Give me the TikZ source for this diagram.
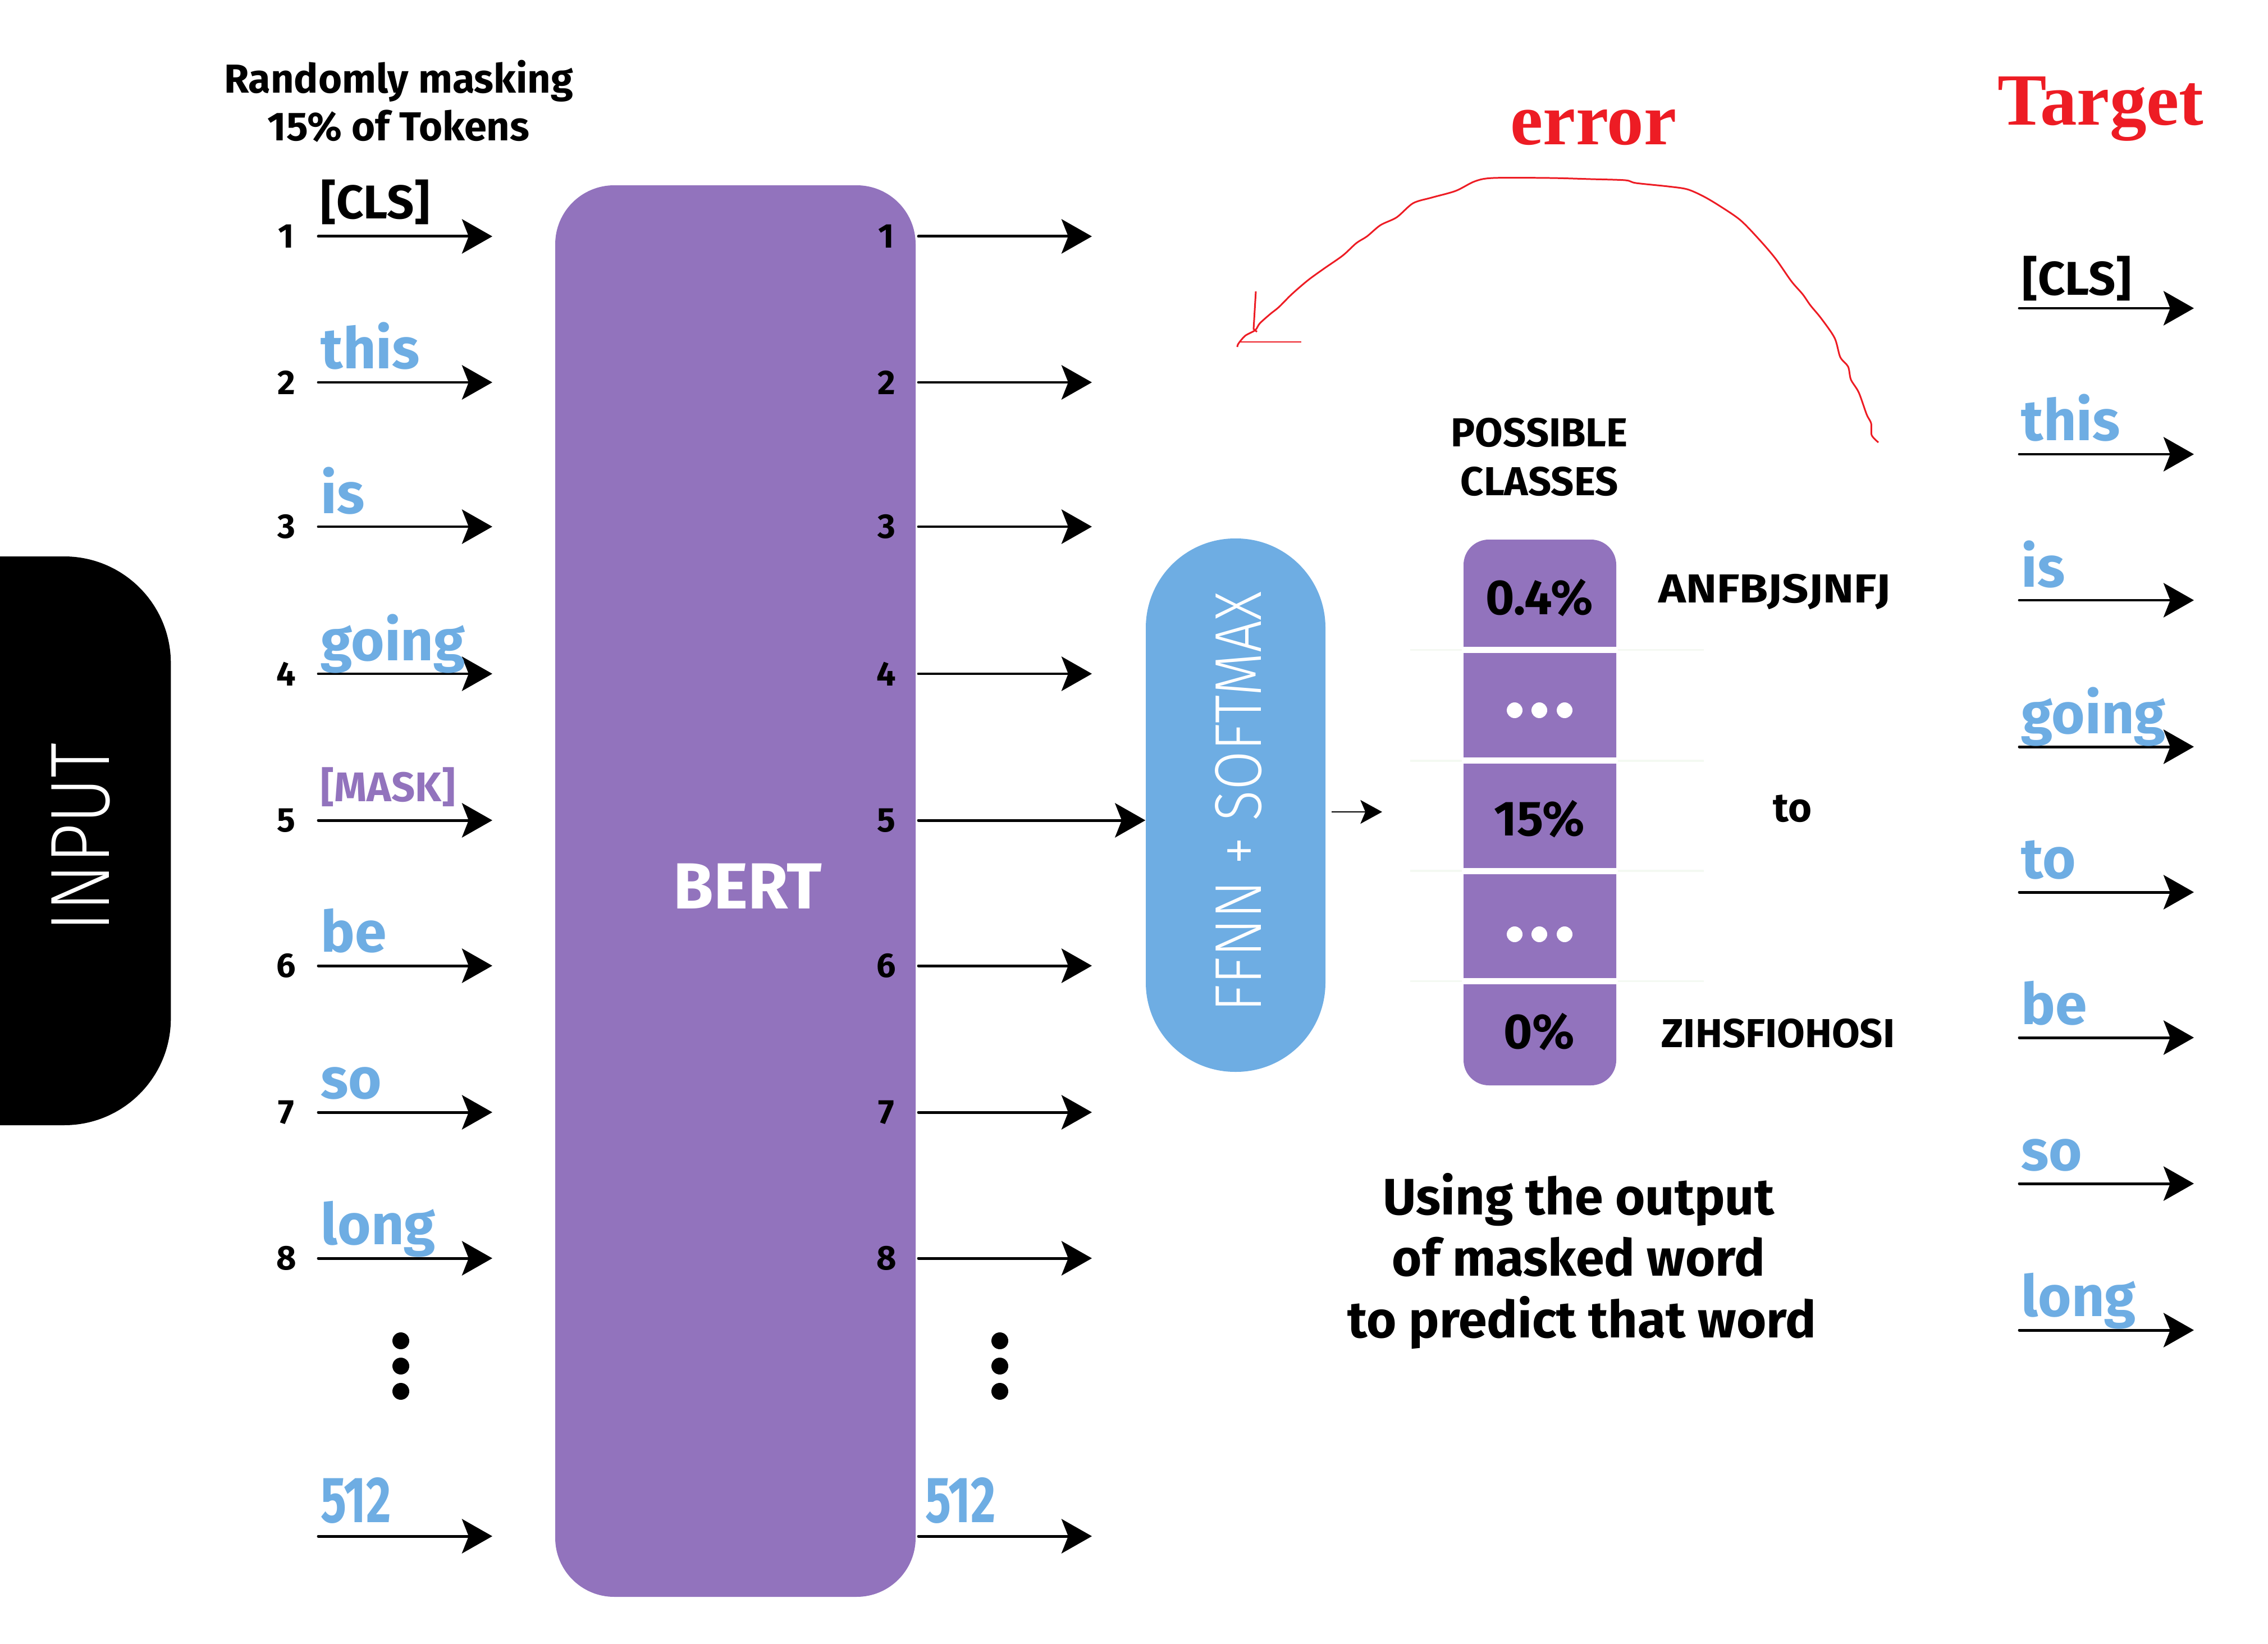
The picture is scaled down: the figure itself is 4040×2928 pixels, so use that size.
\documentclass[tikz,border=0pt]{standalone}
\usepackage{fontspec}
\setmainfont{Fira Sans}
\newfontfamily\lightfont{Fira Sans Light}[FakeStretch=0.84]
\newfontfamily\lightwfont{Fira Sans Light}[FakeStretch=0.86]
\newfontfamily\condfont{Fira Sans}[FakeStretch=0.74]
\newfontfamily\widefont{Fira Sans}[FakeStretch=1.15]
\newfontfamily\serifb{Liberation Serif}
\usetikzlibrary{arrows.meta}
\definecolor{bpurple}{HTML}{9273BD}
\definecolor{bblue}{HTML}{6EADE3}
\definecolor{ered}{HTML}{ED1C24}
\definecolor{faint}{HTML}{F4F9F2}
\tikzset{
  arr/.style={line width=1.42pt, line cap=round, -{Stealth[length=15.4pt,width=17.4pt,inset=3.4pt]}},
  smallarr/.style={line width=0.8pt, -{Stealth[length=11pt,width=12pt,inset=2.5pt]}},
  tok/.style={anchor=base west, inner sep=0pt, text=bblue, font=\bfseries\fontsize{29}{34}\selectfont},
  clstok/.style={anchor=base west, inner sep=0pt, font=\bfseries\fontsize{24}{28}\selectfont},
  masktok/.style={anchor=base west, inner sep=0pt, text=bpurple, font=\bfseries\fontsize{21}{25}\selectfont},
  num/.style={inner sep=0pt, font=\bfseries\fontsize{17.4}{20}\selectfont},
  big512/.style={anchor=base west, inner sep=0pt, text=bblue, font=\condfont\bfseries\fontsize{33}{38}\selectfont},
  headtxt/.style={anchor=base, inner sep=0pt, font=\bfseries\fontsize{20.5}{25}\selectfont},
  clshead/.style={anchor=base, inner sep=0pt, font=\bfseries\fontsize{20.5}{24}\selectfont},
  celltxt/.style={anchor=base, inner sep=0pt, font=\bfseries\fontsize{25}{30}\selectfont},
  lbltxt/.style={anchor=base west, inner sep=0pt, font=\bfseries\fontsize{20.5}{24}\selectfont},
  usetxt/.style={anchor=base, inner sep=0pt, font=\bfseries\fontsize{26}{31}\selectfont},
  redtxt/.style={anchor=base west, inner sep=0pt, text=ered, font=\serifb\bfseries\fontsize{37.3}{44}\selectfont},
  dot/.style={circle, fill=black, inner sep=0pt, minimum size=3mm},
  wdot/.style={circle, fill=white, inner sep=0pt, minimum size=2.8mm},
}
\begin{document}
\begin{tikzpicture}[x=0.1mm,y=-0.1mm]
\useasboundingbox (0,0) rectangle (4040,2928);

% INPUT block
\node[fill=black, rounded corners=19mm, minimum width=60.5mm, minimum height=101.3mm, inner sep=0pt, anchor=east] (inputbox) at (305,1497.5) {};
\node[rotate=90, text=white, inner sep=0pt, font=\lightfont\fontsize{42.6}{50}\selectfont] (inputtxt) at (144,1491) {INPUT};

% heading
\node[headtxt] (head1) at (710,166) {Randomly masking};
\node[headtxt] (head2) at (710,251) {15\% of Tokens};

% BERT block
\node[fill=bpurple, rounded corners=10.5mm, minimum width=64.2mm, minimum height=251.4mm, inner sep=0pt] (bert) at (1310,1587) {};
\node[anchor=base, inner sep=0pt, text=white, font=\bfseries\fontsize{33}{38}\selectfont] (berttxt) at (1332,1618) {BERT};

% FFNN block
\node[fill=bblue, rounded corners=15.9mm, minimum width=32mm, minimum height=95mm, inner sep=0pt] (ffnn) at (2201,1434) {};
\node[rotate=90, text=white, inner sep=0pt, font=\lightwfont\fontsize{33.5}{38}\selectfont] (ffnntxt) at (2206,1428) {FFNN + SOFTMAX};

% input rows and output rows
\foreach \i/\y in {1/421,2/681,3/938,4/1200,5/1461,6/1720,7/1981,8/2241}{
  \coordinate (ls\i) at (567,\y);
  \coordinate (le\i) at (877,\y);
  \draw[arr] (ls\i) -- (le\i);
  \node[num] (ln\i) at (510,\y) {\i};
  \coordinate (os\i) at (1636,\y);
  \coordinate (oe\i) at (1945,\y);
  \node[num] (on\i) at (1579,\y) {\i};
}
\foreach \i in {1,2,3,4,6,7,8}{ \draw[arr] (os\i) -- (oe\i); }
\draw[arr] (os5) -- (os5 -| ffnn.west);

\coordinate (ls9) at (567,2736);
\coordinate (le9) at (877,2736);
\draw[arr] (ls9) -- (le9);
\coordinate (os9) at (1636,2736);
\coordinate (oe9) at (1945,2736);
\draw[arr] (os9) -- (oe9);

% input words
\node[clstok] (lw1) at (571,390) {[CLS]};
\node[tok] (lw2) at (571,657) {this};
\node[tok] (lw3) at (571,914) {is};
\node[tok] (lw4) at (571,1176) {going};
\node[masktok] (lw5) at (571,1427) {[MASK]};
\node[tok] (lw6) at (571,1695) {be};
\node[tok] (lw7) at (571,1956) {so};
\node[tok] (lw8) at (571,2216) {long};
\node[big512] (lw9) at (571,2711) {512};
\node[big512] (ow9) at (1648,2711) {512};

% vertical dots
\foreach \k/\yy in {1/2388,2/2433,3/2478}{
  \node[dot] (ldot\k) at (714,\yy) {};
  \node[dot] (odot\k) at (1781,\yy) {};
}

% possible classes
\node[clshead] (ph1) at (2742,795) {POSSIBLE};
\node[clshead] (ph2) at (2742,882) {CLASSES};
\foreach \yy in {1157.5,1355,1551,1747.5}{
  \draw[faint, line width=1pt] (2512,\yy) -- (3035,\yy);
}
\node[fill=bpurple, rounded corners=4.5mm, minimum width=27.2mm, minimum height=97.2mm, inner sep=0pt] (cls) at (2743,1447) {};
\foreach \yy in {1152,1349,1546,1742}{
  \fill[white] (2604,\yy) rectangle (2882,\yy+11);
}
\node[celltxt] (c1) at (2742,1094) {0.4\%};
\node[celltxt] (c3) at (2742,1488) {15\%};
\node[celltxt] (c5) at (2742,1867) {0\%};
\foreach \k/\xx in {1/2698,2/2742,3/2787}{
  \node[wdot] (da\k) at (\xx,1265) {};
  \node[wdot] (db\k) at (\xx,1664) {};
}
\node[lbltxt, font=\widefont\bfseries\fontsize{20.5}{24}\selectfont] (lab1) at (2954,1073) {ANFBJSJNFJ};
\node[lbltxt] (lab3) at (3158,1463) {to};
\node[lbltxt] (lab5) at (2959,1865) {ZIHSFIOHOSI};

% small arrow FFNN -> classes
\coordinate (sa) at (2372,1446);
\coordinate (sb) at (2462,1446);
\draw[smallarr] (sa) -- (sb);

% explanation text
\node[usetxt] (u1) at (2812,2163) {Using the output};
\node[usetxt] (u2) at (2812,2272) {of masked word};
\node[usetxt] (u3) at (2818,2382) {to predict that word};

% error and target
\node[redtxt] (errtxt) at (2690,258) {error};
\node[redtxt] (tgttxt) at (3558,223) {Target};

\draw[ered, line width=0.85pt, line join=round] plot[smooth, tension=0.5] coordinates {
 (3346,788) (3334,775) (3333,754) (3325,738) (3311,699) (3297,676) (3292,653)
 (3278,636) (3268,602) (3244,567) (3225,544) (3211,524) (3191,501) (3163,461)
 (3134,427) (3100,392) (3062,366) (3033,349) (3005,337) (2971,332) (2914,326)
 (2895,321) (2833,319) (2760,317) (2660,317) (2627,323) (2593,340) (2550,352)
 (2517,362) (2488,387) (2459,401) (2435,421) (2416,433) (2392,455) (2359,478)
 (2330,499) (2301,524) (2278,547) (2263,559) (2244,576) (2236,588) (2218,598)
 (2206,612) (2204,618)};
\draw[ered, line width=0.85pt] (2237,519) -- (2233,586) -- (2239,591);
\draw[ered, line width=0.85pt] (2208,609) -- (2318,609);

% target rows
\foreach \i/\y in {1/549,2/809,3/1069,4/1330,5/1589,6/1848,7/2108,8/2369}{
  \coordinate (ts\i) at (3597,\y);
  \coordinate (te\i) at (3908,\y);
  \draw[arr] (ts\i) -- (te\i);
}
\node[clstok] (tw1) at (3602,526) {[CLS]};
\node[tok] (tw2) at (3600,785) {this};
\node[tok] (tw3) at (3600,1045) {is};
\node[tok] (tw4) at (3600,1306) {going};
\node[tok] (tw5) at (3600,1564) {to};
\node[tok] (tw6) at (3600,1824) {be};
\node[tok] (tw7) at (3600,2084) {so};
\node[tok] (tw8) at (3600,2344) {long};
\end{tikzpicture}
\end{document}
